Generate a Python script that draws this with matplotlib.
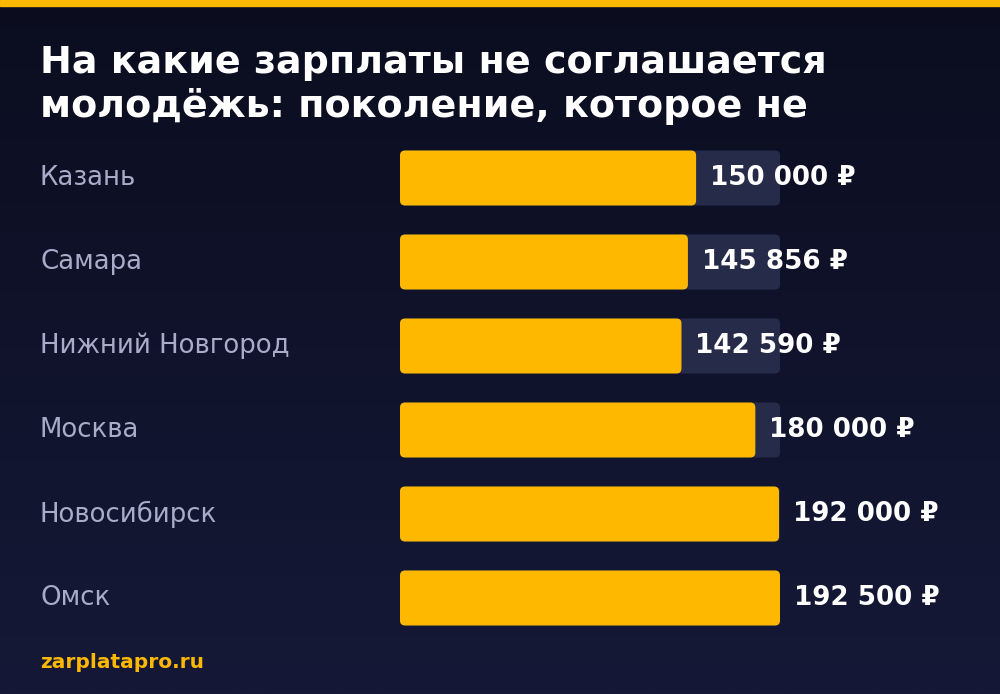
import numpy as np
import matplotlib.pyplot as plt
from matplotlib.patches import FancyBboxPatch

plt.rcParams['font.family'] = ['DejaVu Sans']

cities = ["Казань", "Самара", "Нижний Новгород", "Москва", "Новосибирск", "Омск"]
salaries = [150000, 145856, 142590, 180000, 192000, 192500]
labels = ["150 000 ₽", "145 856 ₽", "142 590 ₽", "180 000 ₽", "192 000 ₽", "192 500 ₽"]
title = "На какие зарплаты не соглашается\nмолодёжь: поколение, которое не"
source = "zarplatapro.ru"

W, H = 1000, 694
fig = plt.figure(figsize=(W / 100, H / 100), dpi=100)

# background gradient + top stripe
bg = fig.add_axes([0, 0, 1, 1])
grad = np.linspace(0, 1, 256).reshape(-1, 1)
c0 = np.array([0x0b, 0x0d, 0x1f]) / 255
c1 = np.array([0x15, 0x19, 0x37]) / 255
img = c0 + (c1 - c0) * grad[..., None]
bg.imshow(img, aspect="auto", extent=[0, 1, 0, 1], origin="upper")
bg.add_patch(plt.Rectangle((0, 1 - 6 / H), 1, 6 / H, color="#FFB800"))
bg.set_xlim(0, 1)
bg.set_ylim(0, 1)
bg.axis("off")

fig.text(40 / W, 1 - 45 / H, title, color="white", fontsize=27.4, fontweight="bold",
         va="top", ha="left", linespacing=1.25)
fig.text(40 / W, 1 - 663 / H, source, color="#FFB800", fontsize=14.5, fontweight="bold",
         va="center", ha="left")

# bars axes: 0 -> 400px, max -> 780px; rows 84px tall from y=136
vmax = max(salaries)
top, row = 136, 84
n = len(cities)
ax = fig.add_axes([400 / W, 1 - (top + n * row) / H, 380 / W, n * row / H])
ax.set_xlim(0, vmax)
ax.set_ylim(n - 0.5, -0.5)
ax.axis("off")

xpp = vmax / 380
ypp = 1 / row
bh = 55 / row
r = 5 * xpp
asp = ypp / xpp
for i, (c, v, lab) in enumerate(zip(cities, salaries, labels)):
    ax.add_patch(FancyBboxPatch((0, i - bh / 2), vmax, bh,
                                boxstyle=f"round,pad=0,rounding_size={r}",
                                mutation_aspect=asp, fc="#272b4a", ec="none"))
    ax.add_patch(FancyBboxPatch((0, i - bh / 2), v, bh,
                                boxstyle=f"round,pad=0,rounding_size={r}",
                                mutation_aspect=asp, fc="#FFB800", ec="none"))
    ax.text(v + 14 * xpp, i, lab, color="white", fontsize=18.8, fontweight="bold",
            va="center", ha="left", clip_on=False)
    fig.text(40 / W, 1 - (top + (i + 0.5) * row) / H, c, color="#a9acc8",
             fontsize=18.7, va="center", ha="left")

fig.savefig("out.png", dpi=100)
